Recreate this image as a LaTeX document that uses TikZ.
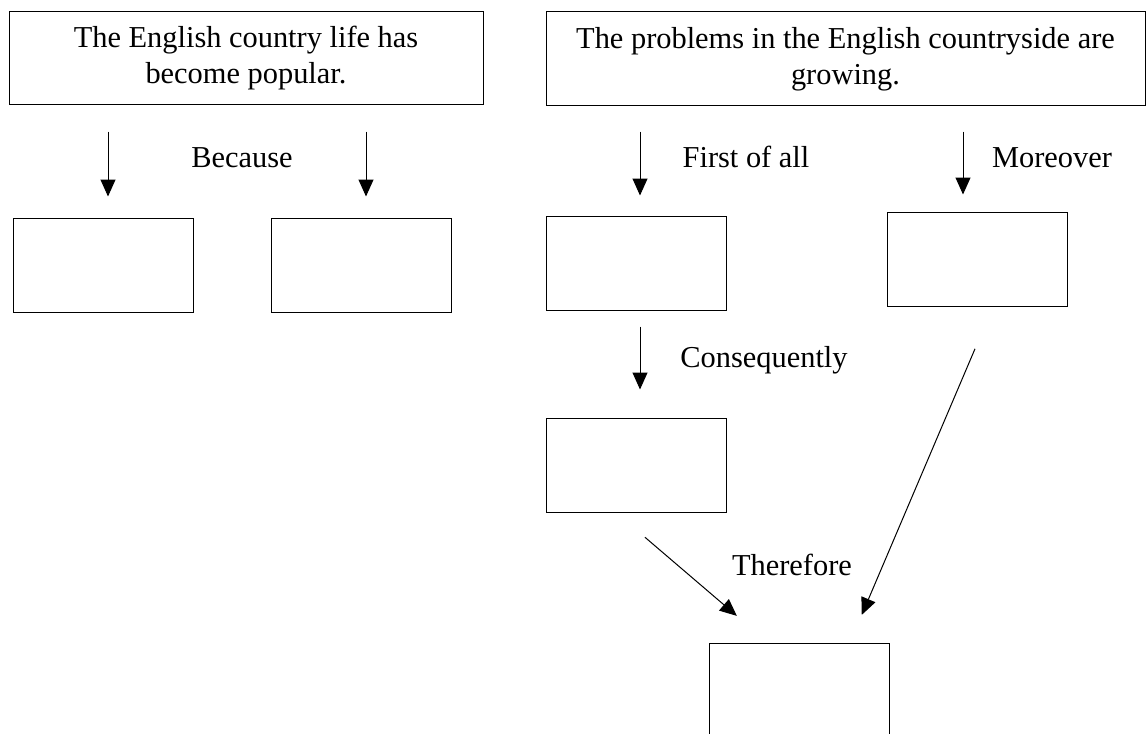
\documentclass[tikz,border=0pt]{standalone}
\usepackage{fontspec}
\setmainfont{Liberation Serif}
\usetikzlibrary{arrows.meta}

\begin{document}
\begin{tikzpicture}[x=1pt, y=-1pt, line width=1pt,
    every node/.style={font=\fontsize{30.4}{36}\selectfont},
    headbox/.style={draw, minimum height=93pt, align=center, inner sep=0pt},
    blank/.style={draw, minimum width=180pt, minimum height=94pt, inner sep=0pt},
    link/.style={-{Triangle[length=17pt, width=15pt]}},
    word/.style={anchor=base}]
  \useasboundingbox (0,0) rectangle (1147,733);
  \clip (0,0) rectangle (1147,733);

  % the two claims
  \node[headbox, minimum width=474pt] (life) at (246,58.5)
    {The English country life has\\become popular.};
  \node[headbox, minimum width=599pt, minimum height=94pt] (problems) at (845.5,59)
    {The problems in the English countryside are\\growing.};

  % empty boxes to fill in
  \node[blank] (reasonA) at (103,265) {};
  \node[blank] (reasonB) at (361.5,265) {};
  \node[blank] (first) at (636,263) {};
  \node[blank] (more) at (977,259) {};
  \node[blank] (conseq) at (636,465) {};
  \node[blank] (result) at (799,690) {};

  % linking words
  \node[word] (because) at (242,167) {Because};
  \node[word] (firstword) at (746,167) {First of all};
  \node[word] (moreword) at (1052,167) {Moreover};
  \node[word] (conseqword) at (764,367) {Consequently};
  \node[word] (thereword) at (792,575) {Therefore};

  % straight down arrows
  \foreach \src/\dst/\dx/\ga/\gb in {life/reasonA/5pt/26pt/21pt,
      life/reasonB/4.5pt/26pt/21pt, problems/first/4pt/25pt/20pt,
      problems/more/-14pt/25pt/17pt, first/conseq/4pt/16pt/28pt} {
    \draw[link, shorten <=\ga, shorten >=\gb]
      ([xshift=\dx]\src.south -| \dst.north) -- ([xshift=\dx]\dst.north);
  }

  % slanted arrows into the last box
  \draw[link, shorten <=38pt, shorten >=41pt]
    ([xshift=-20pt]conseq.south) -- ([xshift=-31pt]result.north);
  \draw[link, shorten <=46pt, shorten >=30pt]
    ([xshift=16pt]more.south) -- ([xshift=51pt]result.north);
\end{tikzpicture}
\end{document}
